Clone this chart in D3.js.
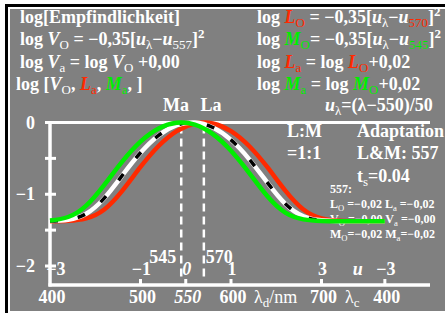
<!DOCTYPE html>
<html>
<head>
<meta charset="utf-8">
<script src="https://cdn.jsdelivr.net/npm/d3@7"></script>
<style>
  body { margin: 0; background: #fff; }
  text { font-family: "Liberation Serif", "Times New Roman", serif; font-weight: bold; fill: #fff; }
</style>
</head>
<body>
<div id="chart"></div>
<script>
// Wavelengths (nm) the curves were read at
const lambdas = [400, 420, 440, 460, 480, 500, 520, 540, 560, 580, 600, 620, 640, 660, 680, 700, 720, 740, 760, 770];
// log sensitivity
const mValues = [-1.366, -1.317, -1.158, -0.868, -0.541, -0.266, -0.083, -0.003, -0.029, -0.162, -0.394, -0.702, -1.025, -1.256, -1.350, -1.373, -1.377, -1.377, -1.377, -1.377];
const lValues = [-1.376, -1.370, -1.336, -1.212, -0.949, -0.620, -0.327, -0.119, -0.013, -0.013, -0.119, -0.327, -0.620, -0.949, -1.212, -1.336, -1.370, -1.376, -1.377, -1.377];
const vValues = [-1.373, -1.354, -1.271, -1.054, -0.735, -0.422, -0.181, -0.038, -0.000, -0.070, -0.243, -0.510, -0.835, -1.134, -1.307, -1.363, -1.375, -1.377, -1.377, -1.377];

// Tick labels
const yTicks = [0, -0.5, -1, -1.5, -2];
const yLabels = [{v: 0, t: "0"}, {v: -1, t: "−1"}, {v: -2, t: "−2"}];
const lambdaTicks = [500, 550, 600, 700, 770];
const lambdaLabels = [{v: 400, t: "400"}, {v: 500, t: "500"}, {v: 550, t: "550", it: true}, {v: 600, t: "600"}, {v: 700, t: "700"}, {v: 770, t: "400"}];
const uLabels = [{v: 400, t: "−3", dx: 5}, {v: 500, t: "−1"}, {v: 550, t: "0", it: true}, {v: 600, t: "1"}, {v: 700, t: "3"}, {v: 739, t: "u", it: true}, {v: 770, t: "−3"}];
const peaks = [{v: 545, name: "Ma", lx: 176}, {v: 570, name: "La", lx: 211}];

const red = "#ff2a00", green = "#00ee00";

const svg = d3.select("#chart").append("svg")
    .attr("width", 445)
    .attr("height", 313);

// frame
svg.append("rect").attr("x", 5).attr("y", 4).attr("width", 445).attr("height", 320).attr("fill", "#000");
svg.append("rect").attr("x", 8).attr("y", 7).attr("width", 445).attr("height", 320).attr("fill", "#fff");
svg.append("rect").attr("x", 10).attr("y", 9).attr("width", 440).attr("height", 302).attr("fill", "#808080");
svg.append("rect").attr("x", 8).attr("y", 311).attr("width", 445).attr("height", 5).attr("fill", "#fff");

const x = d3.scaleLinear().domain([400, 700]).range([50, 321.5]);
const y = d3.scaleLinear().domain([0, -2]).range([122.5, 266]);

// rich text helper: parts with sub / sup / italic / colour
function rich(g, px, py, parts, size) {
    const t = g.append("text").attr("x", px).attr("y", py).style("font-size", size + "px");
    let shift = 0;
    parts.forEach(p => {
        const ts = t.append("tspan").text(p.t);
        const target = p.sub ? size * 0.22 : p.sup ? -size * 0.4 : 0;
        ts.attr("dy", target - shift);
        shift = target;
        if (p.sub || p.sup) ts.style("font-size", (size * 0.72) + "px");
        if (p.sub) ts.style("font-weight", "normal");
        if (p.it) ts.style("font-style", "italic");
        if (p.c) ts.style("fill", p.c);
    });
    return t;
}

const fs = 18;
// left header
rich(svg, 20, 23, [{t: "log[Empfindlichkeit]"}], fs);
rich(svg, 20, 45, [{t: "log "}, {t: "V", it: true}, {t: "O", sub: true}, {t: " = −0,35["}, {t: "u", it: true}, {t: "λ", sub: true}, {t: "−"}, {t: "u", it: true}, {t: "557", sub: true}, {t: "]"}, {t: "2", sup: true}], fs);
rich(svg, 20, 68, [{t: "log "}, {t: "V", it: true}, {t: "a", sub: true}, {t: " = log "}, {t: "V", it: true}, {t: "O", sub: true}, {t: " +0,00"}], fs);
rich(svg, 16, 90, [{t: "log ["}, {t: "V", it: true}, {t: "O", sub: true}, {t: ", "}, {t: "L", it: true, c: red}, {t: "a", sub: true, c: red}, {t: ", "}, {t: "M", it: true, c: green}, {t: "a", sub: true, c: green}, {t: ", ]"}], fs);

// right header
rich(svg, 257, 23, [{t: "log "}, {t: "L", it: true, c: red}, {t: "O", sub: true, c: red}, {t: " = −0,35["}, {t: "u", it: true}, {t: "λ", sub: true}, {t: "−"}, {t: "u", it: true}, {t: "570", sub: true, c: red}, {t: "]"}, {t: "2", sup: true}], fs);
rich(svg, 257, 45, [{t: "log "}, {t: "M", it: true, c: green}, {t: "O", sub: true, c: green}, {t: "= −0,35["}, {t: "u", it: true}, {t: "λ", sub: true}, {t: "−"}, {t: "u", it: true}, {t: "545", sub: true, c: green}, {t: "]"}, {t: "2", sup: true}], fs);
rich(svg, 257, 68, [{t: "log "}, {t: "L", it: true, c: red}, {t: "a", sub: true, c: red}, {t: " = log "}, {t: "L", it: true, c: red}, {t: "O", sub: true, c: red}, {t: "+0,02"}], fs);
rich(svg, 257, 90, [{t: "log "}, {t: "M", it: true, c: green}, {t: "a", sub: true, c: green}, {t: " = log "}, {t: "M", it: true, c: green}, {t: "O", sub: true, c: green}, {t: "+0,02"}], fs);
rich(svg, 325, 111, [{t: "u", it: true}, {t: "λ", sub: true}, {t: "=(λ−550)/50"}], fs);

// right info block
rich(svg, 287, 137, [{t: "L:M"}], fs);
rich(svg, 287, 159, [{t: "=1:1"}], fs);
rich(svg, 357, 137, [{t: "Adaptation"}], fs);
rich(svg, 357, 159, [{t: "L&M: 557"}], fs);
rich(svg, 357, 182, [{t: "t"}, {t: "s", sub: true}, {t: "=0.04"}], fs);

const ss = 12;
rich(svg, 330, 193, [{t: "557:"}], ss);
rich(svg, 330, 208, [{t: "L"}, {t: "O", sub: true}, {t: " =−0,02  L"}, {t: "a", sub: true}, {t: " =−0,02"}], ss);
rich(svg, 330, 223, [{t: "V"}, {t: "O", sub: true}, {t: " =−0,00  V"}, {t: "a", sub: true}, {t: " =−0,00"}], ss);
rich(svg, 330, 238, [{t: "M"}, {t: "O", sub: true}, {t: "=−0,02  M"}, {t: "a", sub: true}, {t: "=−0,02"}], ss);

// peak markers
peaks.forEach(p => {
    svg.append("line")
        .attr("x1", x(p.v)).attr("x2", x(p.v))
        .attr("y1", y(0) + 3).attr("y2", y(-2.2))
        .attr("stroke", "#fff").attr("stroke-width", 2.5)
        .attr("stroke-dasharray", "8,5");
    rich(svg, p.lx, 111, [{t: p.name}], fs).attr("text-anchor", "middle");
});
rich(svg, x(545) - 5, 263, [{t: "545"}], fs).attr("text-anchor", "end");
rich(svg, x(570) + 2, 263, [{t: "570"}], fs);

// axes
svg.append("line").attr("x1", x(400)).attr("x2", 430).attr("y1", y(0)).attr("y2", y(0))
    .attr("stroke", "#fff").attr("stroke-width", 3);
svg.append("line").attr("x1", x(400)).attr("x2", x(400)).attr("y1", y(0) - 1.5).attr("y2", 286.5)
    .attr("stroke", "#fff").attr("stroke-width", 3.5);
svg.append("line").attr("x1", x(400) - 1.5).attr("x2", 430).attr("y1", 285).attr("y2", 285)
    .attr("stroke", "#fff").attr("stroke-width", 3.5);

svg.selectAll(".ytick").data(yTicks).join("line")
    .attr("class", "ytick")
    .attr("x1", 45).attr("x2", 56)
    .attr("y1", d => y(d)).attr("y2", d => y(d))
    .attr("stroke", "#fff").attr("stroke-width", 3);
yLabels.forEach(d => {
    rich(svg, 35, y(d.v) + 6, [{t: d.t}], fs).attr("text-anchor", "end");
});

svg.selectAll(".xtick").data(lambdaTicks).join("line")
    .attr("class", "xtick")
    .attr("x1", d => x(d)).attr("x2", d => x(d))
    .attr("y1", 279).attr("y2", 285)
    .attr("stroke", "#fff").attr("stroke-width", 3);
lambdaLabels.forEach(d => {
    rich(svg, x(d.v) + 2, 303, [{t: d.t, it: d.it}], fs).attr("text-anchor", "middle");
});
uLabels.forEach(d => {
    rich(svg, x(d.v) + 1 + (d.dx || 0), 275, [{t: d.t, it: d.it}], fs).attr("text-anchor", "middle");
});
rich(svg, 254, 303, [{t: "λ"}, {t: "d", sub: true}, {t: "/nm"}], fs).selectAll("tspan").style("font-weight", "normal");
rich(svg, 345, 303, [{t: "λ"}, {t: "c", sub: true}], fs).selectAll("tspan").style("font-weight", "normal");

// curves
const line = d3.line()
    .x((d, i) => x(lambdas[i]))
    .y(d => y(d))
    .curve(d3.curveNatural);

svg.append("path").datum(lValues).attr("d", line)
    .attr("fill", "none").attr("stroke", red).attr("stroke-width", 4.5);
svg.append("path").datum(vValues).attr("d", line)
    .attr("fill", "none").attr("stroke", "#fff").attr("stroke-width", 4.5);
svg.append("path").datum(vValues).attr("d", line)
    .attr("fill", "none").attr("stroke", "#000").attr("stroke-width", 3.5)
    .attr("stroke-dasharray", "8,20");
svg.append("path").datum(mValues).attr("d", line)
    .attr("fill", "none").attr("stroke", green).attr("stroke-width", 4.5);
</script>
</body>
</html>
